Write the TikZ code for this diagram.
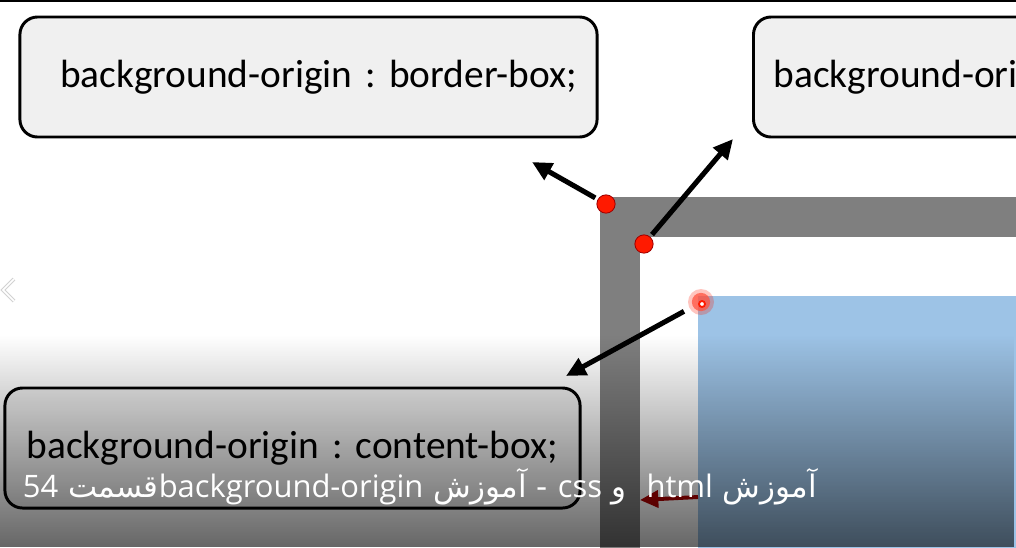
\documentclass[tikz,border=0pt]{standalone}
\usepackage{fontspec}
\setmainfont{Carlito}
\newfontfamily\arabicfont[Script=Arabic]{DejaVu Sans}
\newfontfamily\latinfont{Open Sans}
\TeXXeTstate=1
\frenchspacing
\usetikzlibrary{arrows.meta,positioning,fadings}
\definecolor{BoxFill}{HTML}{F0F0F0}
\definecolor{FrameGray}{HTML}{7F7F7F}
\definecolor{ContentBlue}{HTML}{9DC3E6}
\definecolor{MarkRed}{HTML}{FF1A00}
\definecolor{MarkEdge}{HTML}{A00000}
\definecolor{FlowRed}{HTML}{B00000}
\tikzfading[name=dimdown, top color=transparent!100, bottom color=transparent!0]
\tikzset{
  every node/.style={text=black},
  callout/.style={draw=black, line width=2.1pt, fill=BoxFill, rounded corners=12.5pt,
    font=\fontsize{28}{34}\selectfont, inner xsep=0.5cm, inner ysep=0pt,
    text width=13.425cm, minimum height=3cm},
  marker/.style={circle, fill=MarkRed, draw=MarkEdge, line width=0.6pt, minimum size=13pt, inner sep=0pt},
  pointer/.style={-{Triangle[length=14pt,width=13pt]}, line width=3.6pt, shorten <=2pt},
  subtitle/.style={text=white, font=\fontsize{22}{26}\selectfont, inner sep=0pt},
}
\begin{document}
\begin{tikzpicture}[x=0.025cm, y=-0.025cm]
  \useasboundingbox (0,0) rectangle (1016,547);
  \begin{scope}
    \clip (0,0) rectangle (1016,547);
    \fill[white] (0,0) rectangle (1016,547);
    % top edge of the frame
    \fill[black] (0,0) rectangle (1016,2);
    % border, padding and content areas
    \fill[FrameGray] (600,197) rectangle (1040,560);
    \fill[white] (640,237) rectangle (1040,560);
    \fill[ContentBlue] (698,296) rectangle (1040,560);
    % red arrow under the caption
    \coordinate (flowStart) at (698,497);
    \coordinate (flowEnd) at (640,500);
    \draw[FlowRed, line width=2.8pt, -{Triangle[length=13pt,width=12pt]}] (flowStart) -- (flowEnd);
    % side chevron
    \draw[gray!35, line width=0.7pt, double=white, double distance=1.2pt] (14,279) -- (3,290) -- (14,301);
    % callouts
    \node[callout, align=right] (borderBox) at (308.5,77) {background-origin : border-box;};
    \node[callout, align=left, anchor=west] (paddingBox) at (752,77) {background-ori};
    \node[callout, align=center, inner xsep=0.1cm, text width=14.175cm] (contentBox) at (292.5,448) {background-origin : content-box;};
    % markers and pointers
    \node[marker] (dotBorder) at (606,204) {};
    \node[marker] (dotPadding) at (644,244) {};
    \fill[MarkRed, opacity=0.25] (701,302) circle (13);
    \node[marker, draw=none, fill=MarkRed!75, opacity=0.75, minimum size=13pt] (dotContent) at (701,302) {};
    \draw[MarkRed, line width=1.3pt, fill=white] (702,304) circle (3);
    \coordinate (tipBorder) at (532,162);
    \coordinate (tipPadding) at (733,139);
    \coordinate (tipContent) at (566,376);
    \draw[pointer] (dotBorder) -- (tipBorder);
    \draw[pointer] (dotPadding) -- (tipPadding);
    \draw[pointer, shorten <=7pt] (dotContent) -- (tipContent);
    % dark band of the player
    \fill[black, opacity=0.6, path fading=dimdown] (0,335) rectangle (1016,547);
    % caption
    \node[subtitle, anchor=base east] (caption) at (817,497)
      {\arabicfont\beginR آموزش \beginL{\latinfont html}\endL{}\ \ و \beginL{\latinfont css}\endL{} - آموزش \beginL{\latinfont background-origin}\endL{}قسمت \beginL{\latinfont 54}\endL\endR};
  \end{scope}
\end{tikzpicture}
\end{document}
